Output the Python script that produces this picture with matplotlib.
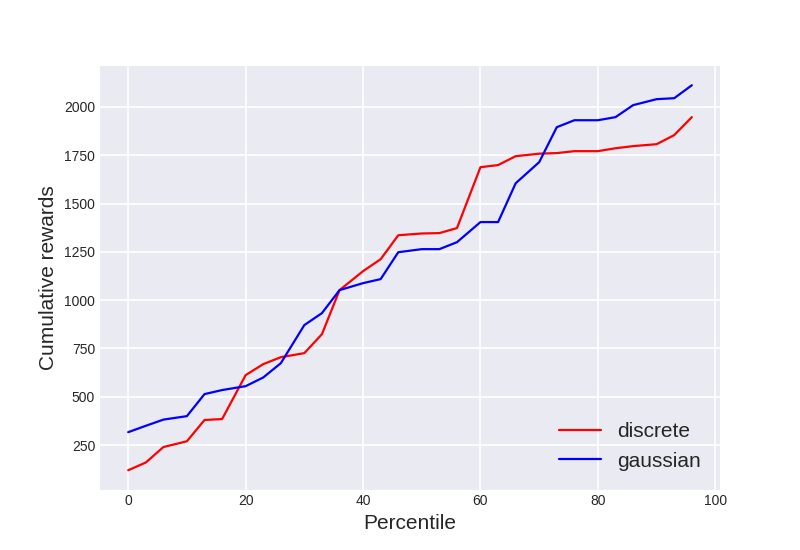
import numpy as np
import matplotlib.pyplot as plt

plt.style.use('seaborn-v0_8-darkgrid')
plt.rcParams['font.family'] = ['Liberation Sans', 'DejaVu Sans']
plt.rcParams['grid.linewidth'] = 1.2

percentile = [0, 3, 6, 10, 13, 16, 20, 23, 26, 30, 33, 36, 40, 43, 46,
              50, 53, 56, 60, 63, 66, 70, 73, 76, 80, 83, 86, 90, 93, 96]

discrete = [120, 160, 240, 270, 380, 385, 612, 669, 705, 726, 824, 1052,
            1150, 1212, 1336, 1345, 1347, 1373, 1688, 1699, 1745, 1758,
            1761, 1771, 1771, 1786, 1797, 1807, 1854, 1947]

gaussian = [317, 350, 382, 400, 514, 535, 555, 600, 674, 871, 933, 1052,
            1088, 1109, 1248, 1264, 1264, 1300, 1404, 1404, 1605, 1714,
            1895, 1931, 1931, 1947, 2009, 2040, 2045, 2112]

fig = plt.figure(figsize=(8, 5.5), dpi=100)
ax = fig.add_subplot()
ax.plot(percentile, discrete, color='red', linewidth=1.6, label='discrete')
ax.plot(percentile, gaussian, color='blue', linewidth=1.6, label='gaussian')
ax.set_xlabel('Percentile', fontsize=15)
ax.set_ylabel('Cumulative rewards', fontsize=15)
ax.legend(loc='lower right', fontsize=15)

fig.savefig('out.png', dpi=100)
